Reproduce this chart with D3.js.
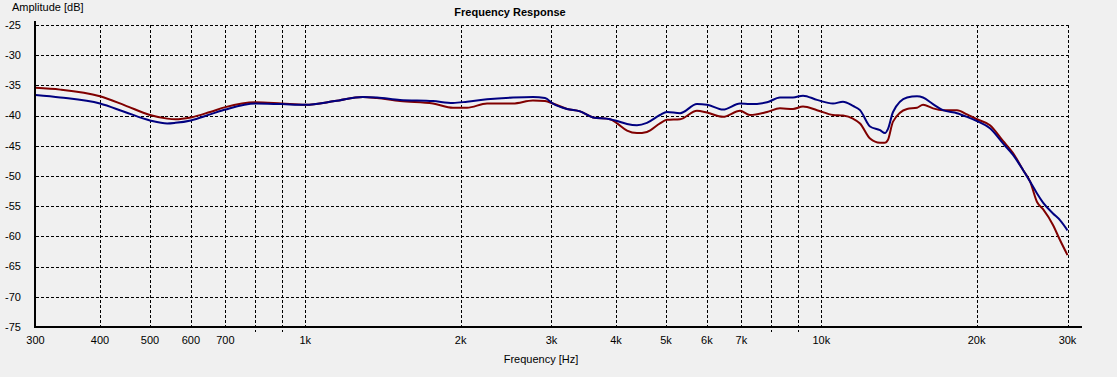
<!DOCTYPE html>
<html>
<head>
<meta charset="utf-8">
<script src="https://cdn.jsdelivr.net/npm/d3@7"></script>
<style>
  html, body { margin: 0; padding: 0; background: #f0f0f0; }
  svg { display: block; font-family: "Liberation Sans", Arial, sans-serif; }
</style>
</head>
<body>
<div id="chart"></div>
<script>
const freqs = [300, 335, 400, 447, 500, 540, 560, 600, 654, 700, 800, 900, 1000, 1141, 1293, 1377,
  1526, 1768, 1933, 2058, 2250, 2527, 2762, 2914, 3020, 3216, 3408, 3610, 3896, 4020, 4203, 4393,
  4593, 4868, 5022, 5324, 5742, 6004, 6450, 6958, 7274, 7849, 8316, 8813, 9216, 9810, 10535, 11015,
  11519, 11886, 12429, 12996, 13289, 13467, 13772, 14661, 15328, 15744, 16460, 17211, 18321, 19159,
  20031, 21227, 22497, 23525, 24600, 25381, 26187, 26898, 28118, 29010, 30000];

const blueDb = [-36.6, -37.0, -38.0, -39.4, -40.8, -41.3, -41.2, -40.8, -39.8, -39.0, -38.0, -38.1, -38.2,
  -37.6, -36.9, -37.0, -37.4, -37.6, -37.9, -37.7, -37.3, -37.0, -36.9, -37.1, -38.0, -38.9, -39.3, -40.3,
  -40.6, -40.9, -41.4, -41.6, -41.2, -39.9, -39.4, -39.6, -38.1, -38.2, -39.0, -38.0, -38.1, -37.8, -37.0,
  -37.0, -36.7, -37.4, -38.0, -37.7, -38.4, -39.1, -41.8, -42.4, -42.9, -42.2, -39.4, -37.0, -36.8, -37.0,
  -38.1, -39.1, -39.6, -40.2, -40.9, -42.1, -44.6, -46.5, -49.0, -50.9, -52.9, -54.4, -56.2, -57.3, -59.0];

const redDb = [-35.4, -35.7, -36.8, -38.3, -39.9, -40.5, -40.6, -40.3, -39.4, -38.6, -37.8, -38.0, -38.2,
  -37.6, -36.9, -37.1, -37.6, -38.0, -38.7, -38.7, -38.0, -38.0, -37.5, -37.6, -38.0, -38.9, -39.3, -40.3,
  -40.6, -41.3, -42.5, -42.9, -42.7, -41.3, -40.7, -40.6, -39.2, -39.5, -40.2, -39.2, -39.9, -39.4, -38.8,
  -38.9, -38.5, -39.1, -39.9, -40.0, -40.5, -41.3, -43.8, -44.5, -44.5, -44.0, -41.0, -38.9, -38.7, -38.2,
  -38.8, -39.1, -39.1, -39.8, -40.6, -41.6, -44.2, -46.2, -49.0, -50.9, -54.3, -55.5, -58.1, -60.6, -63.1];

const xTicks = [300, 400, 500, 600, 700, 800, 900, 1000, 2000, 3000, 4000, 5000, 6000, 7000, 8000, 9000, 10000, 20000, 30000];
const xTickLabels = ['300', '400', '500', '600', '700', '', '', '1k', '2k', '3k', '4k', '5k', '6k', '7k', '', '', '10k', '20k', '30k'];
const yTicks = [-25, -30, -35, -40, -45, -50, -55, -60, -65, -70, -75];

const W = 1117, H = 377;
const plotL = 35.5, plotR = 1067.5, plotT = 25, plotB = 327;

const svg = d3.select('#chart').append('svg')
  .attr('width', W)
  .attr('height', H);

const x = d3.scaleLog().domain([300, 30000]).range([plotL, plotR]);
const y = d3.scaleLinear().domain([-75, -25]).range([plotB, plotT]);

// Grille
const grid = svg.append('g')
  .attr('stroke', '#000')
  .attr('stroke-width', 1)
  .attr('stroke-dasharray', '3,2')
  .attr('shape-rendering', 'crispEdges');

grid.selectAll('line.h')
  .data(yTicks.filter(v => v !== -75))
  .join('line')
  .attr('class', 'h')
  .attr('x1', plotL)
  .attr('x2', plotR)
  .attr('y1', d => Math.round(y(d)) + 0.5)
  .attr('y2', d => Math.round(y(d)) + 0.5);

grid.selectAll('line.v')
  .data(xTicks.filter(v => v !== 300))
  .join('line')
  .attr('class', 'v')
  .attr('x1', d => Math.round(x(d)) + 0.5)
  .attr('x2', d => Math.round(x(d)) + 0.5)
  .attr('y1', plotT)
  .attr('y2', (d, i) => xTickLabels[i + 1] === '' ? plotB + 5 : plotB + 1);

// Courbes
const line = d3.line()
  .x(d => x(d[0]))
  .y(d => y(d[1]))
  .curve(d3.curveMonotoneX);

svg.append('path')
  .datum(freqs.map((f, i) => [f, redDb[i]]))
  .attr('fill', 'none')
  .attr('stroke', '#800000')
  .attr('stroke-width', 2)
  .attr('d', line);

svg.append('path')
  .datum(freqs.map((f, i) => [f, blueDb[i]]))
  .attr('fill', 'none')
  .attr('stroke', '#000080')
  .attr('stroke-width', 2)
  .attr('d', line);

// Axes (traits épais)
svg.append('line')
  .attr('x1', 35).attr('x2', 35)
  .attr('y1', 21).attr('y2', plotB + 1)
  .attr('stroke', '#000').attr('stroke-width', 2);

svg.append('line')
  .attr('x1', 34).attr('x2', 1082)
  .attr('y1', plotB).attr('y2', plotB)
  .attr('stroke', '#000').attr('stroke-width', 2);

// Libellés des graduations
svg.append('g')
  .attr('font-size', 11)
  .attr('fill', '#000')
  .attr('text-anchor', 'end')
  .selectAll('text')
  .data(yTicks)
  .join('text')
  .attr('x', 21)
  .attr('y', d => y(d))
  .attr('dy', '0.35em')
  .text(d => d);

svg.append('g')
  .attr('font-size', 11)
  .attr('fill', '#000')
  .attr('text-anchor', 'middle')
  .selectAll('text')
  .data(xTicks)
  .join('text')
  .attr('x', d => x(d))
  .attr('y', 340)
  .attr('dy', '0.35em')
  .text((d, i) => xTickLabels[i]);

// Titres
svg.append('text')
  .attr('x', 510).attr('y', 12)
  .attr('dy', '0.35em')
  .attr('text-anchor', 'middle')
  .attr('font-size', 11)
  .attr('font-weight', 'bold')
  .text('Frequency Response');

svg.append('text')
  .attr('x', 12).attr('y', 7)
  .attr('dy', '0.35em')
  .attr('font-size', 11)
  .text('Amplitude [dB]');

svg.append('text')
  .attr('x', 541).attr('y', 359)
  .attr('dy', '0.35em')
  .attr('text-anchor', 'middle')
  .attr('font-size', 11)
  .text('Frequency [Hz]');
</script>
</body>
</html>
